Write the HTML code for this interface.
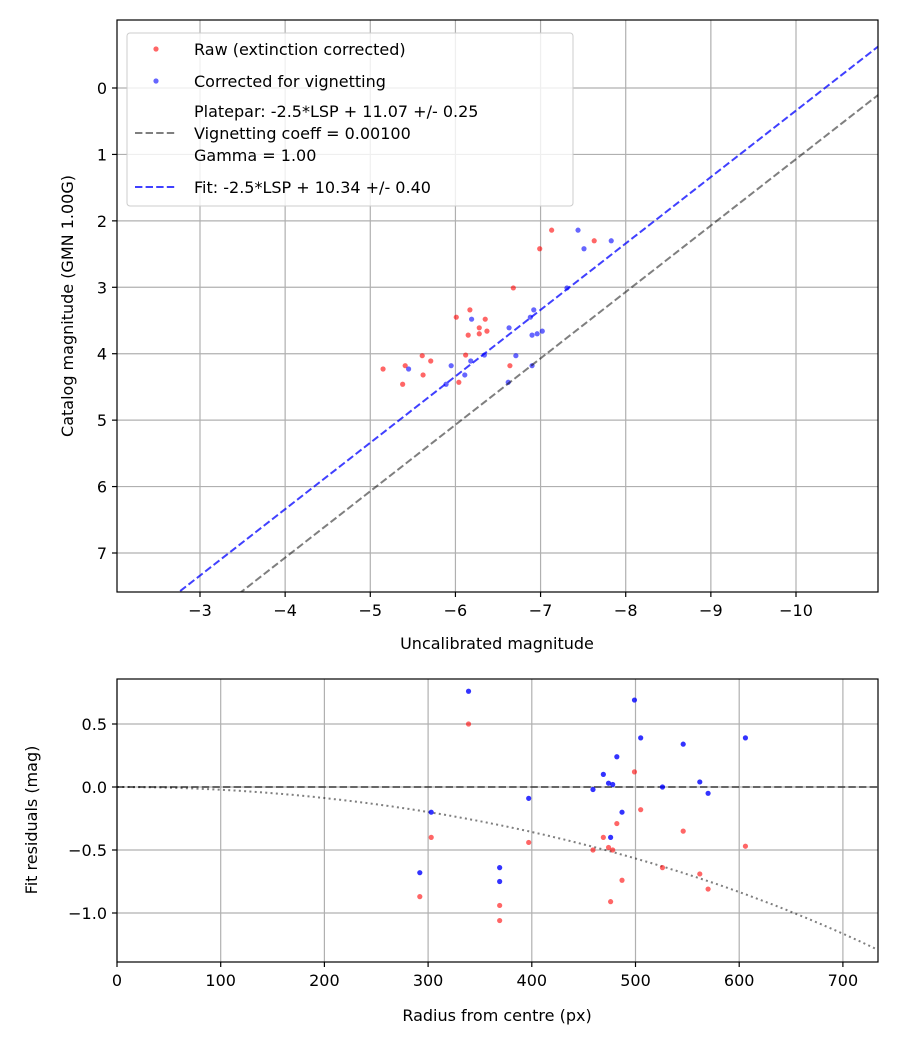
<!DOCTYPE html>
<html><head><meta charset="utf-8">
<style>
body{margin:0;background:#fff;}
svg{display:block;font-family:"DejaVu Sans","Liberation Sans",sans-serif;}
</style></head>
<body>
<svg id="fig" width="900" height="1050" viewBox="0 0 900 1050" xmlns="http://www.w3.org/2000/svg">
<rect width="900" height="1050" fill="#fff"/>
<g id="topplot"></g>
<g id="botplot"></g>
</svg>
<script>
// ---- top chart data ----
const rawMag = [-7.13,-6.99,-7.63,-6.68,-6.17,-6.01,-6.35,-6.28,-6.15,-6.28,-6.37,-5.61,-6.12,-5.71,-5.41,-5.15,-5.62,-6.64,-6.04,-5.38];
const corrMag = [-7.44,-7.51,-7.83,-7.31,-6.92,-6.88,-6.19,-6.63,-6.90,-6.96,-7.02,-6.71,-6.34,-6.18,-5.95,-5.45,-6.11,-6.90,-6.62,-5.89];
const catMag = [2.14,2.42,2.30,3.01,3.34,3.45,3.48,3.61,3.72,3.70,3.66,4.03,4.02,4.11,4.18,4.23,4.32,4.18,4.43,4.46];
const topXTicks = [-3,-4,-5,-6,-7,-8,-9,-10];
const topYTicks = [0,1,2,3,4,5,6,7];
const plateparZP = 11.07;
const fitZP = 10.34;
// ---- bottom chart data ----
const radius = [292,303,339,369,369,397,459,469,474,476,478,482,487,499,505,526,546,562,570,606];
const resRaw = [-0.87,-0.40,0.50,-0.94,-1.06,-0.44,-0.50,-0.40,-0.48,-0.91,-0.50,-0.29,-0.74,0.12,-0.18,-0.64,-0.35,-0.69,-0.81,-0.47];
const resCorr = [-0.68,-0.20,0.76,-0.64,-0.75,-0.09,-0.02,0.10,0.03,-0.40,0.02,0.24,-0.20,0.69,0.39,0.00,0.34,0.04,-0.05,0.39];
const botXTicks = [0,100,200,300,400,500,600,700];
const botYTicks = [0.5,0.0,-0.5,-1.0];
const vignCoeff = 0.001;

const NS="http://www.w3.org/2000/svg";
function mk(parent,tag,attrs,text){const e=document.createElementNS(NS,tag);for(const k in attrs)e.setAttribute(k,attrs[k]);if(text!==undefined)e.textContent=text;parent.appendChild(e);return e;}
function fmt(v,d){const s=Math.abs(v).toFixed(d);return v<0?'\u2212'+s:s;}

// ---------- TOP ----------
const topG=document.getElementById('topplot');
const T={l:117,r:878,t:20,b:592};
const tx=v=>200+(-3-v)*(596/7);
const ty=v=>88+v*(465/7);
const gridT=mk(topG,'g',{});


topXTicks.forEach(v=>{const x=tx(v);
 mk(gridT,'line',{x1:x,x2:x,y1:T.t,y2:T.b,stroke:'#b0b0b0','stroke-width':1.2});
 mk(topG,'line',{x1:x,x2:x,y1:T.b,y2:T.b+5,stroke:'#000','stroke-width':1.2});
 const lb=mk(topG,'text',{x:x,y:T.b+24,'text-anchor':'middle','font-size':16},fmt(v,0));
 
 
});
topYTicks.forEach(v=>{const y=ty(v);
 mk(gridT,'line',{x1:T.l,x2:T.r,y1:y,y2:y,stroke:'#b0b0b0','stroke-width':1.2});
 mk(topG,'line',{x1:T.l-5,x2:T.l,y1:y,y2:y,stroke:'#000','stroke-width':1.2});
 const lb=mk(topG,'text',{x:T.l-10,y:y+6,'text-anchor':'end','font-size':16},String(v));
 
 
});
const ct=mk(topG,'clipPath',{id:'ctop'});
mk(ct,'rect',{x:T.l,y:T.t,width:T.r-T.l,height:T.b-T.t});
const pl=mk(topG,'g',{'clip-path':'url(#ctop)'});
function zpLine(zp,color,name){const m1=-1,m2=-12;
 const l=mk(pl,'line',{x1:tx(m1),y1:ty(m1+zp),x2:tx(m2),y2:ty(m2+zp),stroke:color,'stroke-width':2,'stroke-dasharray':'7.4,3.2'});
 
 }
rawMag.forEach((m,i)=>{const c=mk(pl,'circle',{cx:tx(m),cy:ty(catMag[i]),r:2.6,fill:'#ff0000','fill-opacity':0.6});
 
 });
corrMag.forEach((m,i)=>{const c=mk(pl,'circle',{cx:tx(m),cy:ty(catMag[i]),r:2.6,fill:'#0000ff','fill-opacity':0.6});
 
 });
zpLine(plateparZP,'rgba(0,0,0,0.5)','platepar-line');
zpLine(fitZP,'rgba(0,0,255,0.75)','fit-line');
mk(topG,'rect',{x:T.l,y:T.t,width:T.r-T.l,height:T.b-T.t,fill:'none',stroke:'#000','stroke-width':1.2});
let t=mk(topG,'text',{x:497,y:649,'text-anchor':'middle','font-size':16},'Uncalibrated magnitude');


t=mk(topG,'text',{x:0,y:0,'text-anchor':'middle','font-size':16,transform:'translate(73,306) rotate(-90)'},'Catalog magnitude (GMN 1.00G)');


// legend
const lg=mk(topG,'g',{});


mk(lg,'rect',{x:127,y:33,width:446,height:173,rx:3,fill:'#fff','fill-opacity':0.8,stroke:'#cccccc','stroke-width':1});
mk(lg,'circle',{cx:156,cy:49,r:2.6,fill:'#ff0000','fill-opacity':0.6});
mk(lg,'circle',{cx:156,cy:81,r:2.6,fill:'#0000ff','fill-opacity':0.6});
mk(lg,'line',{x1:135,x2:177,y1:133,y2:133,stroke:'rgba(0,0,0,0.5)','stroke-width':2,'stroke-dasharray':'7.4,3.2'});
mk(lg,'line',{x1:135,x2:177,y1:187,y2:187,stroke:'rgba(0,0,255,0.75)','stroke-width':2,'stroke-dasharray':'7.4,3.2'});
[['Raw (extinction corrected)',55],['Corrected for vignetting',87],['Platepar: -2.5*LSP + 11.07 +/- 0.25',117],['Vignetting coeff = 0.00100',139],['Gamma = 1.00',161],['Fit: -2.5*LSP + 10.34 +/- 0.40',193]].forEach(([s,y])=>{
 const e=mk(lg,'text',{x:194,y:y,'font-size':16},s);
 
 });

// ---------- BOTTOM ----------
const botG=document.getElementById('botplot');
const B={l:117,r:878,t:679,b:962};
const bx=v=>117+v*1.037;
const by=v=>787-v*126;
const gridB=mk(botG,'g',{});


botXTicks.forEach(v=>{const x=bx(v);
 mk(gridB,'line',{x1:x,x2:x,y1:B.t,y2:B.b,stroke:'#b0b0b0','stroke-width':1.2});
 mk(botG,'line',{x1:x,x2:x,y1:B.b,y2:B.b+5,stroke:'#000','stroke-width':1.2});
 const lb=mk(botG,'text',{x:x,y:B.b+24,'text-anchor':'middle','font-size':16},String(v));
 
 
});
botYTicks.forEach(v=>{const y=by(v);
 mk(gridB,'line',{x1:B.l,x2:B.r,y1:y,y2:y,stroke:'#b0b0b0','stroke-width':1.2});
 mk(botG,'line',{x1:B.l-5,x2:B.l,y1:y,y2:y,stroke:'#000','stroke-width':1.2});
 const lb=mk(botG,'text',{x:B.l-10,y:y+6,'text-anchor':'end','font-size':16},fmt(v,1));
 
 
});
const cb=mk(botG,'clipPath',{id:'cbot'});
mk(cb,'rect',{x:B.l,y:B.t,width:B.r-B.l,height:B.b-B.t});
const pb=mk(botG,'g',{'clip-path':'url(#cbot)'});
const zl=mk(pb,'line',{x1:B.l,x2:B.r,y1:by(0),y2:by(0),stroke:'rgba(0,0,0,0.5)','stroke-width':2,'stroke-dasharray':'7.4,3.2'});


let d='';for(let r=0;r<=735;r+=5){const c=Math.cos(r*vignCoeff);const v=2.5*Math.log10(Math.pow(c,4));d+=(r?'L':'M')+bx(r).toFixed(1)+','+by(v).toFixed(1);}
const vc=mk(pb,'path',{d:d,fill:'none',stroke:'rgba(0,0,0,0.5)','stroke-width':2,'stroke-dasharray':'2,3.3'});


radius.forEach((r,i)=>{const c=mk(pb,'circle',{cx:bx(r),cy:by(resRaw[i]),r:2.6,fill:'#ff0000','fill-opacity':0.6});
 
 });
radius.forEach((r,i)=>{const c=mk(pb,'circle',{cx:bx(r),cy:by(resCorr[i]),r:2.6,fill:'#0000ff','fill-opacity':0.8});
 
 });
mk(botG,'rect',{x:B.l,y:B.t,width:B.r-B.l,height:B.b-B.t,fill:'none',stroke:'#000','stroke-width':1.2});
t=mk(botG,'text',{x:497,y:1021,'text-anchor':'middle','font-size':16},'Radius from centre (px)');


t=mk(botG,'text',{x:0,y:0,'text-anchor':'middle','font-size':16,transform:'translate(37,820) rotate(-90)'},'Fit residuals (mag)');


</script>
</body></html>
